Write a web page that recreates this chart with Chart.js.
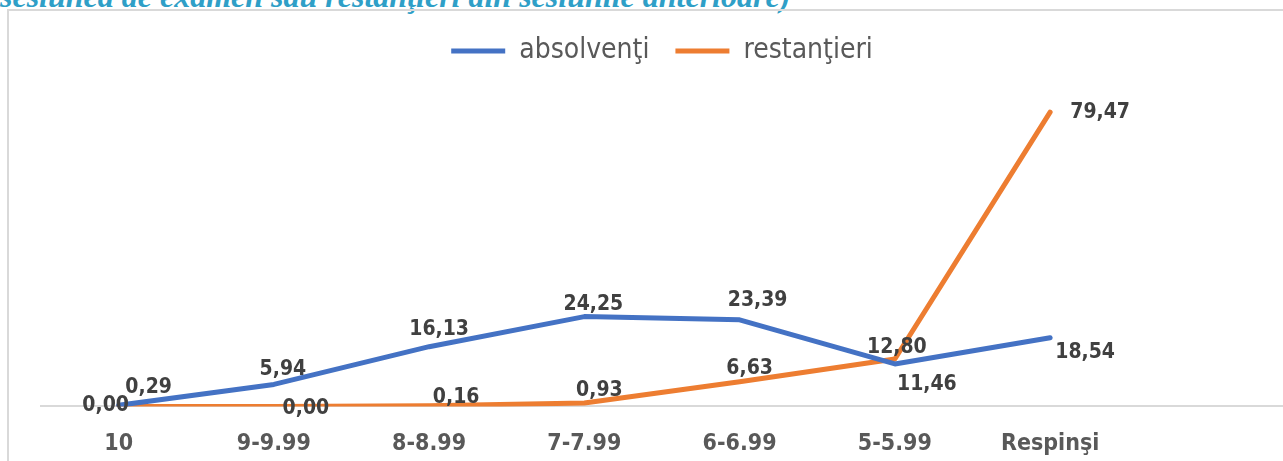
<!DOCTYPE html>
<html>
<head>
<meta charset="utf-8">
<script src="https://cdn.jsdelivr.net/npm/chart.js@4"></script>
<style>
  html, body { margin: 0; padding: 0; width: 1283px; height: 461px; overflow: hidden; background: #fff; }
  #title {
    position: absolute; left: 0; top: -22px; line-height: 1;
    font: italic bold 32px 'Liberation Serif', 'Times New Roman', serif;
    color: #2f9fc7; white-space: nowrap;
  }
  #frame {
    position: absolute; left: 7px; top: 9px; width: 1300px; height: 480px;
    border-top: 2px solid #d9d9d9; border-left: 2px solid #d9d9d9;
  }
  #chart { position: absolute; left: 9px; top: 0; }
</style>
</head>
<body>
<div id="title">sesiunea de examen sau restanţieri din sesiunile anterioare)</div>
<div id="frame"></div>
<canvas id="chart" width="1300" height="482"></canvas>
<script>
// categories (the last slot is an empty category, as in the original plot)
const categories = ['10', '9-9.99', '8-8.99', '7-7.99', '6-6.99', '5-5.99', 'Respinşi', ''];
const seriesNames = ['absolvenţi', 'restanţieri'];
const absolventi  = [0.29, 5.94, 16.13, 24.25, 23.39, 11.46, 18.54];
const restantieri = [0.00, 0.00, 0.16, 0.93, 6.63, 12.80, 79.47];

const narrow = "'DejaVu Sans Condensed', 'Roboto', sans-serif";

// label nudges relative to each point (dx, dy), per series
const labelOffsets = [
  [[30, -18], [9, -15], [10, -17], [9, -12], [18, -19], [32, 21], [35, 15]],
  [[-13, -1], [32, 2], [27, -8], [15, -12], [10, -13], [2, -11], [50, 0]],
];

// Draws the value labels next to each point (comma decimals)
const valueLabels = {
  id: 'valueLabels',
  afterDatasetsDraw(chart) {
    const { ctx } = chart;
    ctx.save();
    ctx.font = `bold 21px ${narrow}`;
    ctx.fillStyle = '#404040';
    ctx.textAlign = 'center';
    ctx.textBaseline = 'middle';
    chart.data.datasets.forEach((ds, di) => {
      chart.getDatasetMeta(di).data.forEach((pt, i) => {
        const v = ds.data[i];
        if (v == null) return;
        const [dx, dy] = labelOffsets[di][i];
        ctx.fillText(v.toFixed(2).replace('.', ','), pt.x + dx, pt.y + dy);
      });
    });
    ctx.restore();
  },
};

new Chart(document.getElementById('chart'), {
  type: 'line',
  plugins: [valueLabels],
  data: {
    labels: categories,
    datasets: [
      {
        label: seriesNames[0],
        data: absolventi,
        borderColor: '#4472c4',
        backgroundColor: '#4472c4',
        borderWidth: 5,
        borderCapStyle: 'round',
        borderJoinStyle: 'round',
        pointRadius: 0,
        tension: 0,
      },
      {
        label: seriesNames[1],
        data: restantieri,
        borderColor: '#ed7d31',
        backgroundColor: '#ed7d31',
        borderWidth: 5,
        borderCapStyle: 'round',
        borderJoinStyle: 'round',
        pointRadius: 0,
        tension: 0,
      },
    ],
  },
  options: {
    responsive: false,
    animation: false,
    layout: { padding: { left: 32, right: 26, top: 11, bottom: 0 } },
    plugins: {
      tooltip: { enabled: false },
      legend: {
        labels: {
          usePointStyle: true,
          pointStyle: 'line',
          pointStyleWidth: 54,
          padding: 26,
          color: '#595959',
          font: { family: narrow, size: 28 },
        },
      },
    },
    scales: {
      x: {
        offset: true,
        grid: { display: false, drawTicks: false },
        border: { display: true, color: '#d9d9d9', width: 2 },
        ticks: {
          padding: 24,
          color: '#595959',
          font: { family: narrow, size: 23, weight: 'bold' },
          maxRotation: 0,
          autoSkip: false,
        },
      },
      y: { display: false, min: 0, max: 89.5 },
    },
  },
});
</script>
</body>
</html>
